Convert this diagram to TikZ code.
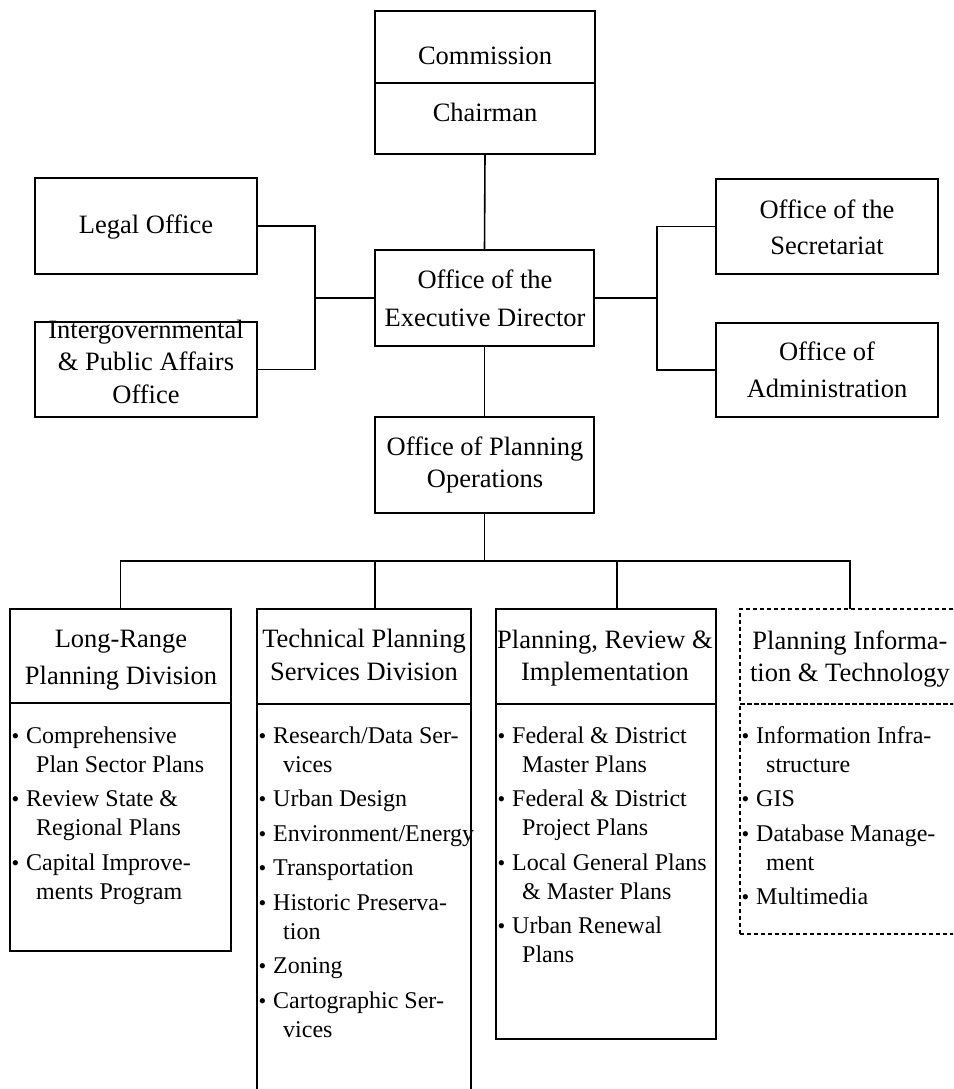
\documentclass[tikz,border=0pt]{standalone}
\usepackage{fontspec}
\setmainfont{Liberation Serif}
\newcommand\ctr[1]{\vtop{\halign{\hfil##\hfil\cr#1\crcr}}}
\newcommand\lft[1]{\vtop{\halign{##\hfil\cr#1\crcr}}}
\newcommand\bul{\makebox[14.5pt][l]{\raisebox{0pt}{\fontsize{22}{22}\selectfont •}}}
\newcommand\cont{\hspace*{24.5pt}}
\tikzset{
 box/.style={draw, line width=2pt, inner sep=0pt, outer sep=0pt},
 dbox/.style={draw, line width=1.6pt, dash pattern=on 4pt off 3pt, inner sep=0pt, outer sep=0pt},
 conn/.style={line width=1.6pt},
 head/.style={inner sep=0pt, anchor=base, font=\fontsize{26.5}{36}\selectfont},
 item/.style={inner sep=0pt, anchor=base west, font=\fontsize{24}{29}\selectfont},
}
\begin{document}
\begin{tikzpicture}[x=1pt,y=-1pt]
\useasboundingbox (0,0) rectangle (953,1089);
% top boxes
\node[box, minimum width=220pt, minimum height=72pt] (comm) at (485,47) {};
\node[box, minimum width=220pt, minimum height=71pt] (chair) at (485,118.5) {};
\node[box, minimum width=219pt, minimum height=96pt] (exec) at (484.5,298) {};
\node[box, minimum width=222pt, minimum height=96pt] (legal) at (146,226) {};
\node[box, minimum width=222pt, minimum height=95pt] (intergov) at (146,369.5) {};
\node[box, minimum width=222pt, minimum height=95pt] (secr) at (827,226.5) {};
\node[box, minimum width=222pt, minimum height=94pt] (admin) at (827,370) {};
\node[box, minimum width=219pt, minimum height=96pt] (ops) at (484.5,465) {};
% divisions
\node[box, minimum width=221pt, minimum height=94pt] (lrp) at (120.5,656) {};
\node[box, minimum width=221pt, minimum height=248pt] (lrpb) at (120.5,827) {};
\node[box, minimum width=220pt, minimum height=95pt] (pri) at (606,656.5) {};
\node[box, minimum width=220pt, minimum height=335pt] (prib) at (606,871.5) {};
\begin{scope}
\clip (0,0) rectangle (953,1089);
\node[box, minimum width=214pt, minimum height=95pt] (tps) at (364,656.5) {};
\node[box, minimum width=214pt, minimum height=406pt] (tpsb) at (364,907) {};
\node[dbox, minimum width=220pt, minimum height=95pt] (pit) at (850,656.5) {};
\node[dbox, minimum width=220pt, minimum height=230pt] (pitb) at (850,819) {};
\end{scope}
% connectors
\coordinate (jl) at (315,298);
\coordinate (jr) at (657,298);
\coordinate (bus) at (484.5,561);
\draw[conn] (chair.south) -- (exec.north);
\draw[conn] (exec.south) -- (ops.north);
\draw[conn] (legal.east) -| (jl) |- (intergov.east);
\draw[conn] (exec.west) -- (jl);
\draw[conn] (secr.west) -| (jr) |- (admin.west);
\draw[conn] (exec.east) -- (jr);
\draw[conn] (ops.south) -- (bus);
\draw[conn] (lrp.north) |- (bus);
\draw[conn] ([xshift=11pt]tps.north) |- (bus);
\draw[conn] ([xshift=11pt]pri.north) |- (bus);
\draw[conn] (pit.north) |- (bus);
% texts
\node[head] (commt) at (485,65) {Commission};
\node[head] (chairt) at (485,122) {Chairman};
\node[head, font=\fontsize{26.5}{38}\selectfont] (exect) at (485,288) {\ctr{Office of the\cr Executive Director}};
\node[head] (legalt) at (146,233) {Legal Office};
\node[head, font=\fontsize{26.5}{32.5}\selectfont] (intergovt) at (146,338) {\ctr{Intergovernmental\cr \& Public Affairs\cr Office}};
\node[head, font=\fontsize{26.5}{36}\selectfont] (secrt) at (827,218) {\ctr{Office of the\cr Secretariat}};
\node[head, font=\fontsize{26.5}{37}\selectfont] (admint) at (827,360) {\ctr{Office of\cr Administration}};
\node[head, font=\fontsize{26.5}{32}\selectfont] (opst) at (485,455) {\ctr{Office of Planning\cr Operations}};
\node[head, font=\fontsize{26.5}{37}\selectfont] (lrpt) at (121,647) {\ctr{Long-Range\cr Planning Division}};
\node[head, font=\fontsize{26.5}{33}\selectfont] (tpst) at (364,647) {\ctr{Technical Planning\cr Services Division}};
\node[head, font=\fontsize{26.5}{32}\selectfont] (prit) at (605,648) {\ctr{Planning, Review \&\cr Implementation}};
\node[head, font=\fontsize{26.5}{32}\selectfont] (pitt) at (850,649) {\ctr{Planning Informa-\cr tion \& Technology}};
% long-range items
\node[item] (l1) at (11.5,743) {\lft{\bul Comprehensive\cr\cont Plan Sector Plans}};
\node[item] (l2) at (11.5,806.5) {\lft{\bul Review State \&\cr\cont Regional Plans}};
\node[item] (l3) at (11.5,870) {\lft{\bul Capital Improve-\cr\cont ments Program}};
% technical items
\node[item] (t1) at (258.5,743) {\lft{\bul Research/Data Ser-\cr\cont vices}};
\node[item] (t2) at (258.5,806.5) {\lft{\bul Urban Design}};
\node[item] (t3) at (258.5,841) {\lft{\bul Environment/Energy}};
\node[item] (t4) at (258.5,875.5) {\lft{\bul Transportation}};
\node[item] (t5) at (258.5,910) {\lft{\bul Historic Preserva-\cr\cont tion}};
\node[item] (t6) at (258.5,973.5) {\lft{\bul Zoning}};
\node[item] (t7) at (258.5,1008) {\lft{\bul Cartographic Ser-\cr\cont vices}};
% planning review items
\node[item] (p1) at (497.5,743) {\lft{\bul Federal \& District\cr\cont Master Plans}};
\node[item] (p2) at (497.5,806.5) {\lft{\bul Federal \& District\cr\cont Project Plans}};
\node[item] (p3) at (497.5,870) {\lft{\bul Local General Plans\cr\cont \& Master Plans}};
\node[item] (p4) at (497.5,933.5) {\lft{\bul Urban Renewal\cr\cont Plans}};
% info tech items
\node[item] (i1) at (741.5,743) {\lft{\bul Information Infra-\cr\cont structure}};
\node[item] (i2) at (741.5,806.5) {\lft{\bul GIS}};
\node[item] (i3) at (741.5,841) {\lft{\bul Database Manage-\cr\cont ment}};
\node[item] (i4) at (741.5,904.5) {\lft{\bul Multimedia}};
\end{tikzpicture}
\end{document}
